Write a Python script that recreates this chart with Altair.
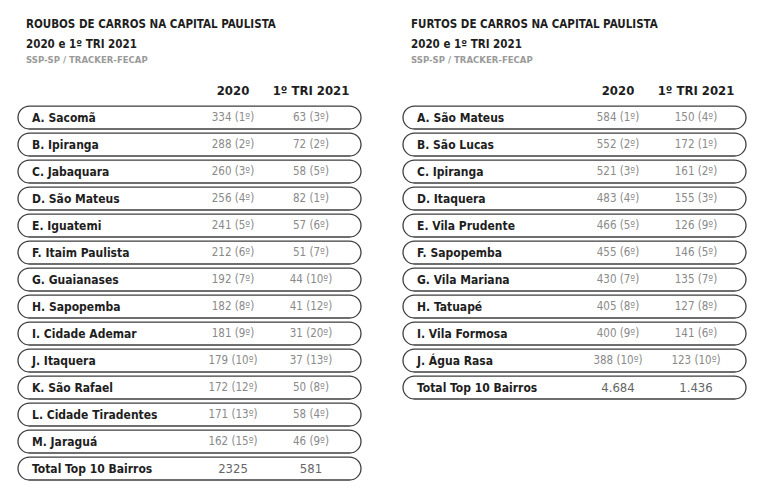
import altair as alt
import pandas as pd

# ---------------- data ----------------
roubos_bairros = [
    "A. Sacomã", "B. Ipiranga", "C. Jabaquara", "D. São Mateus", "E. Iguatemi",
    "F. Itaim Paulista", "G. Guaianases", "H. Sapopemba", "I. Cidade Ademar",
    "J. Itaquera", "K. São Rafael", "L. Cidade Tiradentes", "M. Jaraguá",
    "Total Top 10 Bairros",
]
roubos_2020 = [
    "334 (1º)", "288 (2º)", "260 (3º)", "256 (4º)", "241 (5º)", "212 (6º)",
    "192 (7º)", "182 (8º)", "181 (9º)", "179 (10º)", "172 (12º)", "171 (13º)",
    "162 (15º)", "2325",
]
roubos_2021 = [
    "63 (3º)", "72 (2º)", "58 (5º)", "82 (1º)", "57 (6º)", "51 (7º)",
    "44 (10º)", "41 (12º)", "31 (20º)", "37 (13º)", "50 (8º)", "58 (4º)",
    "46 (9º)", "581",
]

furtos_bairros = [
    "A. São Mateus", "B. São Lucas", "C. Ipiranga", "D. Itaquera",
    "E. Vila Prudente", "F. Sapopemba", "G. Vila Mariana", "H. Tatuapé",
    "I. Vila Formosa", "J. Água Rasa", "Total Top 10 Bairros",
]
furtos_2020 = [
    "584 (1º)", "552 (2º)", "521 (3º)", "483 (4º)", "466 (5º)", "455 (6º)",
    "430 (7º)", "405 (8º)", "400 (9º)", "388 (10º)", "4.684",
]
furtos_2021 = [
    "150 (4º)", "172 (1º)", "161 (2º)", "155 (3º)", "126 (9º)", "146 (5º)",
    "135 (7º)", "127 (8º)", "141 (6º)", "123 (10º)", "1.436",
]

header_2020 = "2020"
header_2021 = "1º TRI 2021"
subtitle_text = "SSP-SP / TRACKER-FECAP"

# ---------------- layout / style ----------------
FONT = "DejaVu Sans Condensed, Liberation Sans Narrow, sans-serif"
PANEL_W = 343
STEP = 27
COL_LABEL = 14
COL_2020 = 215
COL_2021 = 293


def table(title_lines, bairros, v2020, v2021):
    n = len(bairros)
    rows = pd.DataFrame({
        "row": list(range(1, n + 1)),
        "bairro": bairros,
        "v2020": v2020,
        "v2021": v2021,
        "total": [i == n - 1 for i in range(n)],
    })
    header = pd.DataFrame({"row": [0], "h2020": [header_2020], "h2021": [header_2021]})

    y = alt.Y("row:O", scale=alt.Scale(domain=list(range(0, n + 1)), paddingInner=0.15),
              axis=None)

    base = alt.Chart(rows)
    pill = base.mark_rect(cornerRadius=11.5, fill="white", stroke="#3f3f3f",
                          strokeWidth=1.3).encode(
        y=y, x=alt.value(0), x2=alt.value("width"))
    label = base.mark_text(align="left", font=FONT, fontWeight="bold", fontSize=12,
                           color="#1e1e1e").encode(
        y=y, x=alt.value(COL_LABEL), text="bairro:N")
    val_color = alt.condition("datum.total", alt.value("#666666"), alt.value("#8a8a8a"))
    val_size = alt.condition("datum.total", alt.value(13), alt.value(11.5))
    v1 = base.mark_text(align="center", font=FONT).encode(
        y=y, x=alt.value(COL_2020), text="v2020:N", color=val_color, size=val_size)
    v2 = base.mark_text(align="center", font=FONT).encode(
        y=y, x=alt.value(COL_2021), text="v2021:N", color=val_color, size=val_size)

    hbase = alt.Chart(header)
    h1 = hbase.mark_text(align="center", font=FONT, fontWeight="bold", fontSize=13,
                         color="#1e1e1e").encode(y=y, x=alt.value(COL_2020), text="h2020:N")
    h2 = hbase.mark_text(align="center", font=FONT, fontWeight="bold", fontSize=13,
                         color="#1e1e1e").encode(y=y, x=alt.value(COL_2021), text="h2021:N")

    return alt.layer(pill, label, v1, v2, h1, h2).properties(
        width=PANEL_W,
        height=alt.Step(STEP),
        title=alt.TitleParams(
            text=title_lines,
            subtitle=subtitle_text,
            anchor="start",
            frame="group",
            dx=8,
            font=FONT,
            fontSize=11.5,
            fontWeight="bold",
            color="#1e1e1e",
            lineHeight=20,
            subtitleFont=FONT,
            subtitleFontSize=9.5,
            subtitleFontWeight="bold",
            subtitleColor="#9a9a9a",
            subtitlePadding=5,
            offset=12.5,
        ),
    )


left = table(["ROUBOS DE CARROS NA CAPITAL PAULISTA", "2020 e 1º TRI 2021"],
             roubos_bairros, roubos_2020, roubos_2021)
right = table(["FURTOS DE CARROS NA CAPITAL PAULISTA", "2020 e 1º TRI 2021"],
              furtos_bairros, furtos_2020, furtos_2021)

chart = alt.hconcat(left, right, spacing=40).properties(
    padding={"left": 9, "top": 10, "right": 0, "bottom": 0},
    background="white",
).configure_view(strokeWidth=0, stroke="transparent")

chart.save("out.html", embed_options={"renderer": "svg", "actions": False})
